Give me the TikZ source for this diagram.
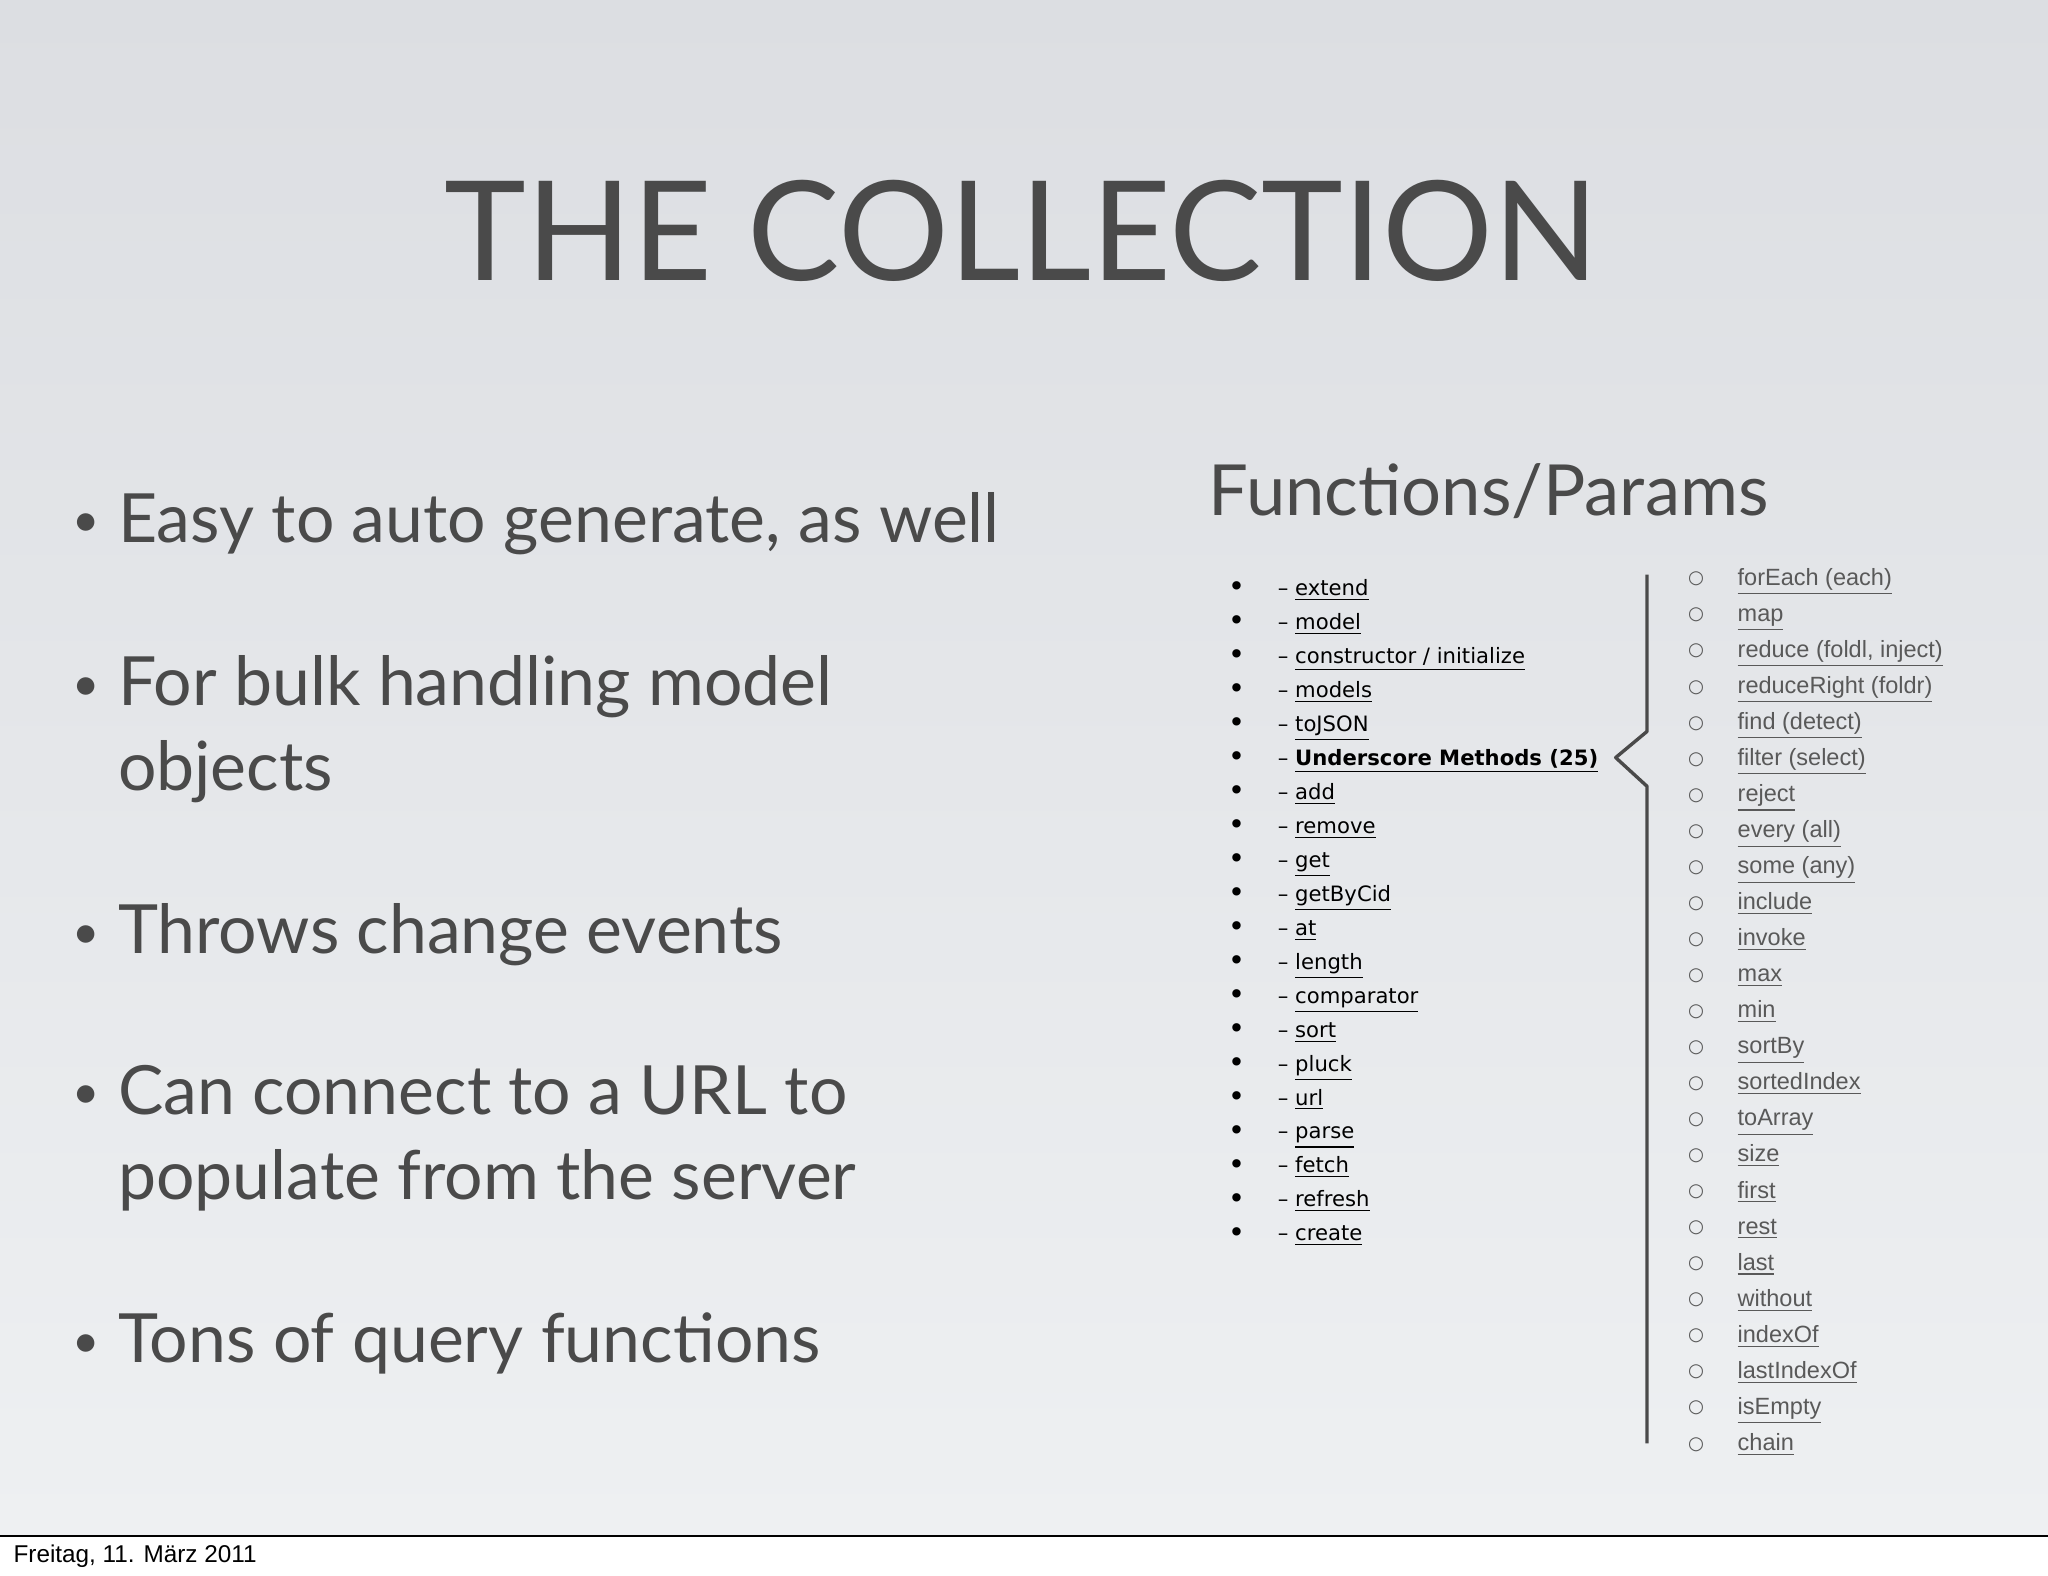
\documentclass[tikz,border=0pt]{standalone}
\usepackage{fontspec}
\setmainfont{Lato}
\newfontfamily\dv{DejaVu Sans}
\newfontfamily\lib{Liberation Sans}
\definecolor{txt}{HTML}{4A4A4A}
\definecolor{bgtop}{HTML}{DCDEE2}
\definecolor{bgbot}{HTML}{EEF0F2}
\begin{document}
\begin{tikzpicture}[x=0.5pt,y=-0.5pt,
  bul/.style={anchor=base west,text=txt,font=\fontsize{26}{31}\selectfont,inner sep=0},
  litem/.style={anchor=base west,inner sep=0,font=\dv\fontsize{8.1}{10}\selectfont,text=black},
  ritem/.style={anchor=base west,inner sep=0,font=\lib\fontsize{9}{11}\selectfont,text=black!65}]
\useasboundingbox (0,0) rectangle (1568,1206);
\fill[white] (0,0) rectangle (1568,1206);
\shade[top color=bgtop,bottom color=bgbot] (0,0) rectangle (1568,1176);
\draw[black,line width=0.6pt] (0,1176) -- (1568,1176);
\node[anchor=base west,inner sep=0,font=\lib\fontsize{9.3}{11}\selectfont] (foot) at (10,1196) {Freitag, 11. März 2011};
\node[anchor=base,inner sep=0,text=txt,font=\fontsize{53}{60}\selectfont] (title) at (782,215) {THE COLLECTION};
\foreach \y/\t [count=\i] in {415/Easy to auto generate{,} as well,540/For bulk handling model,730/Throws change events,853/Can connect to a URL to,1043/Tons of query functions}{
  \node[bul] (b\i) at (90,\y) {\t};
  \node[bul,font=\fontsize{18}{20}\selectfont] (d\i) at (55,\y-4) {•};}
\node[bul] (b2b) at (90,605) {objects};
\node[bul] (b4b) at (90,918) {populate from the server};
\node[anchor=base west,inner sep=0,text=txt,font=\fontsize{27}{33}\selectfont] (fp) at (925,395) {Functions/Params};
\foreach \t [count=\i] in {extend,model,constructor / initialize,models,toJSON,\textbf{Underscore Methods (25)},add,remove,get,getByCid,at,length,comparator,sort,pluck,url,parse,fetch,refresh,create}{
  \pgfmathsetmacro\yy{456+26*(\i-1)}
  \node[litem] (l\i) at (978,\yy) {– \underline{\t}};
  \node[litem,font=\dv\fontsize{11}{12}\selectfont] (lb\i) at (940,\yy+1) {•};}
\foreach \t [count=\i] in {forEach (each),map,reduce (foldl{,} inject),reduceRight (foldr),find (detect),filter (select),reject,every (all),some (any),include,invoke,max,min,sortBy,sortedIndex,toArray,size,first,rest,last,without,indexOf,lastIndexOf,isEmpty,chain}{
  \pgfmathsetmacro\yy{448+27.6*(\i-1)}
  \node[ritem] (r\i) at (1330,\yy) {\underline{\t}};
  \node[ritem,font=\dv\fontsize{7}{8}\selectfont] (rb\i) at (1292,\yy-1) {○};}
\coordinate (br1) at (1261,440);
\coordinate (br2) at (1261,560);
\coordinate (br3) at (1237,580);
\coordinate (br4) at (1261,602);
\coordinate (br5) at (1261,1105);
\draw[txt,line width=1.3pt,line join=round] (br1) -- (br2) -- (br3) -- (br4) -- (br5);
\end{tikzpicture}
\end{document}
